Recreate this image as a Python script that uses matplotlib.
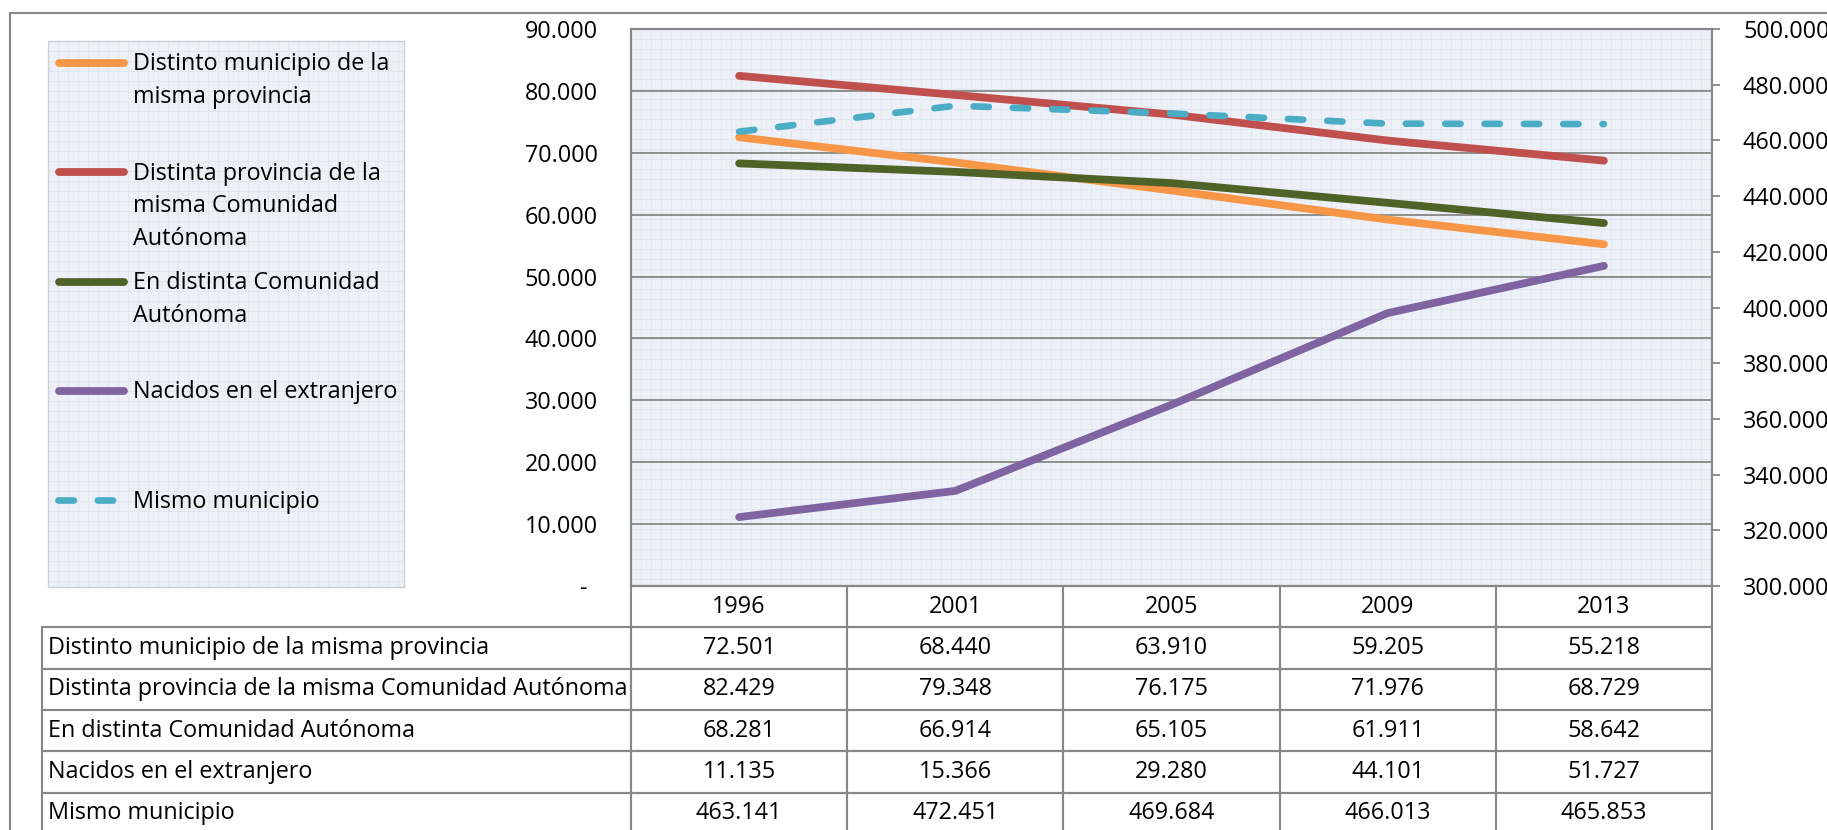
import numpy as np
import matplotlib.pyplot as plt
from matplotlib.patches import Rectangle
from matplotlib.lines import Line2D
from matplotlib.ticker import FuncFormatter
import matplotlib.transforms as mtransforms

plt.rcParams['font.family'] = ['Open Sans', 'DejaVu Sans']

# data
years = ['1996', '2001', '2005', '2009', '2013']
distinto_municipio = [72501, 68440, 63910, 59205, 55218]
distinta_provincia = [82429, 79348, 76175, 71976, 68729]
distinta_comunidad = [68281, 66914, 65105, 61911, 58642]
nacidos_extranjero = [11135, 15366, 29280, 44101, 51727]
mismo_municipio = [463141, 472451, 469684, 466013, 465853]

row_names = ['Distinto municipio de la misma provincia',
             'Distinta provincia de la misma Comunidad Autónoma',
             'En distinta Comunidad Autónoma',
             'Nacidos en el extranjero',
             'Mismo municipio']
legend_names = ['Distinto municipio de la\nmisma provincia',
                'Distinta provincia de la\nmisma Comunidad\nAutónoma',
                'En distinta Comunidad\nAutónoma',
                'Nacidos en el extranjero',
                'Mismo municipio']
colors = ['#F79646', '#C0504D', '#4F6228', '#8064A2', '#4BACC6']

W, H = 1827, 830
GRAY = '#878787'
FS = 16.8


def thousands(v):
    return f'{v:,.0f}'.replace(',', '.')


def texture(w, h, step=10):
    # light blue background with a fine grid, like the Excel fill
    img = np.empty((h, w, 3))
    img[:] = np.array([237, 241, 247]) / 255
    img[::step, :] = np.array([225, 231, 241]) / 255
    img[:, ::step] = np.array([225, 231, 241]) / 255
    return img


fig = plt.figure(figsize=(W / 100, H / 100), dpi=100)

# plot area
left, right, top, bottom = 631, 1712, 29, 586
ax = fig.add_axes([left / W, 1 - bottom / H, (right - left) / W, (bottom - top) / H])
ax.patch.set_visible(False)
fig.figimage(texture(right - left, bottom - top), xo=left, yo=H - bottom, zorder=-1)

x = np.arange(len(years))
primary = [distinto_municipio, distinta_provincia, distinta_comunidad, nacidos_extranjero]
for vals, c in zip(primary, colors[:4]):
    ax.plot(x, vals, color=c, lw=5.6, solid_capstyle='round')

ax.set_xlim(-0.5, len(years) - 0.5)
ax.set_ylim(0, 90000)
ax.set_yticks(np.arange(0, 90001, 10000))
ax.yaxis.set_major_formatter(FuncFormatter(lambda v, p: '-' if v == 0 else thousands(v)))
ax.set_xticks([])
ax.tick_params(axis='y', length=0, pad=23.8, labelsize=FS)
ax.grid(axis='y', color=GRAY, lw=1.3)
ax.set_axisbelow(True)
for s in ax.spines.values():
    s.set_color(GRAY)
    s.set_linewidth(1.5)

ax2 = ax.twinx()
ax2.plot(x, mismo_municipio, color=colors[4], lw=4.8, dashes=(2.3, 3.6),
         dash_capstyle='round', solid_capstyle='round')
ax2.set_ylim(300000, 500000)
ax2.set_yticks(np.arange(300000, 500001, 20000))
ax2.yaxis.set_major_formatter(FuncFormatter(lambda v, p: thousands(v)))
ax2.tick_params(axis='y', direction='out', length=5.8, width=1.3, color=GRAY,
                pad=16.5, labelsize=FS)
for s in ax2.spines.values():
    s.set_color(GRAY)
    s.set_linewidth(1.5)

# the "-" for zero sits a bit left of the other labels
zero_tick = ax.yaxis.get_major_ticks()[0]
zero_tick.label1.set_transform(zero_tick.label1.get_transform() +
                               mtransforms.ScaledTranslation(-11 / 100, 0, fig.dpi_scale_trans))

# data table under the plot
t_left, t_right, t_bottom = 42, 1712, 834
pw, ph = right - left, bottom - top
cell_text = []
for name, vals in zip(row_names, [distinto_municipio, distinta_provincia, distinta_comunidad,
                                  nacidos_extranjero, mismo_municipio]):
    cell_text.append([name] + [thousands(v) for v in vals])
label_w = (left - t_left) / (t_right - t_left)
col_w = (1 - label_w) / len(years)
tbl = ax.table(cellText=cell_text, colLabels=[''] + years,
               colWidths=[label_w] + [col_w] * len(years), cellLoc='center',
               bbox=[(t_left - left) / pw, -(t_bottom - bottom) / ph,
                     (t_right - t_left) / pw, (t_bottom - bottom) / ph])
tbl.auto_set_font_size(False)
tbl.set_fontsize(FS)
for (r, c), cell in tbl.get_celld().items():
    cell.set_edgecolor(GRAY)
    cell.set_linewidth(1.5)
    cell.set_facecolor('none')
    if c == 0:
        cell.get_text().set_horizontalalignment('left')
        cell.PAD = 0.0105
tbl[0, 0].set_visible(False)

# legend box
lg_l, lg_t, lg_r, lg_b = 48, 41, 404, 587
fig.figimage(texture(lg_r - lg_l, lg_b - lg_t), xo=lg_l, yo=H - lg_b, zorder=-1)
fig.add_artist(Rectangle((lg_l / W, 1 - lg_b / H), (lg_r - lg_l) / W, (lg_b - lg_t) / H,
                         transform=fig.transFigure, fill=False, ec='#C9D0D9', lw=1))
for i, (name, c) in enumerate(zip(legend_names, colors)):
    y = 63 + i * 109.3
    if i < 4:
        h = Line2D([59 / W, 124 / W], [1 - y / H] * 2, transform=fig.transFigure,
                   color=c, lw=5.6, solid_capstyle='round')
    else:
        h = Line2D([58 / W, 125 / W], [1 - y / H] * 2, transform=fig.transFigure,
                   color=c, lw=4.8, dashes=(2.3, 3.6), dash_capstyle='round')
    fig.add_artist(h)
    for j, line in enumerate(name.split('\n')):
        fig.text(133 / W, 1 - (y + 7.5 + j * 32.5) / H, line, fontsize=FS,
                 ha='left', va='baseline')

# outer chart frame (its right and bottom sides fall outside the picture)
fig.add_artist(Rectangle((10 / W, -0.05), 1.1, 1.05 - 13 / H, transform=fig.transFigure,
                         fill=False, ec=GRAY, lw=1.5))

fig.savefig('out.png', dpi=100)
